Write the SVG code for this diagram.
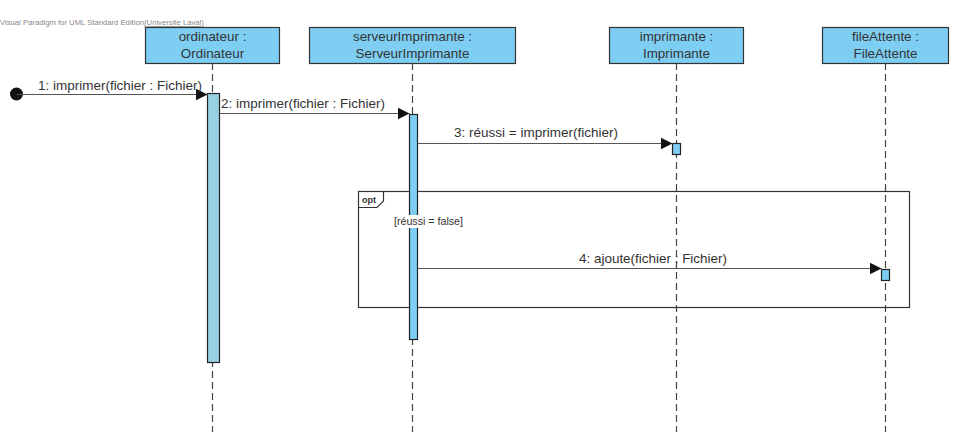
<svg xmlns="http://www.w3.org/2000/svg" width="953" height="432" viewBox="0 0 953 432">
<style>
text{font-family:"Liberation Sans",Arial,sans-serif;fill:#333}
.head{fill:#7ecef4;stroke:#333;stroke-width:1.2}
.ht{font-size:13.4px;text-anchor:middle}
.life{stroke:#444;stroke-width:1.2;stroke-dasharray:7,4;fill:none}
.act{fill:#7ecef4;stroke:#222;stroke-width:1.2}
.msg{stroke:#555;stroke-width:1.2;fill:none;marker-end:url(#arr)}
.mt{font-size:13.4px}
</style>
<defs>
<marker id="arr" markerWidth="14" markerHeight="12" refX="12" refY="6" orient="auto" markerUnits="userSpaceOnUse">
<path d="M0,0 L12,6 L0,12 z" fill="#111"/>
</marker>
</defs>
<rect width="953" height="432" fill="#fff"/>
<text x="0" y="25" font-size="7.7" style="fill:#888">Visual Paradigm for UML Standard Edition<tspan text-decoration="underline">(Universite Laval)</tspan></text>

<g id="ordinateur">
<line class="life" x1="212.5" y1="63" x2="212.5" y2="432"/>
<rect class="head" x="145.5" y="27.5" width="134" height="36"/>
<text class="ht" x="212.5" y="41">ordinateur :</text>
<text class="ht" x="212.5" y="58">Ordinateur</text>
<rect class="act" x="207.5" y="93.5" width="12" height="269" style="fill:#97d0e0"/>
</g>

<g id="serveurImprimante">
<line class="life" x1="412.5" y1="63" x2="412.5" y2="432"/>
<rect class="head" x="309.5" y="27.5" width="206" height="36"/>
<text class="ht" x="412.5" y="41">serveurImprimante :</text>
<text class="ht" x="412.5" y="58">ServeurImprimante</text>
</g>

<g id="imprimante">
<line class="life" x1="676.5" y1="63" x2="676.5" y2="432"/>
<rect class="head" x="609.5" y="27.5" width="134" height="36"/>
<text class="ht" x="676.5" y="41">imprimante :</text>
<text class="ht" x="676.5" y="58">Imprimante</text>
<rect class="act" x="672.5" y="143.5" width="8" height="11"/>
</g>

<g id="fileAttente">
<line class="life" x1="885.5" y1="63" x2="885.5" y2="432"/>
<rect class="head" x="822.5" y="27.5" width="126" height="36"/>
<text class="ht" x="885.5" y="41">fileAttente :</text>
<text class="ht" x="885.5" y="58">FileAttente</text>
</g>

<g id="opt">
<rect x="358.5" y="191.5" width="551" height="116" fill="none" stroke="#333" stroke-width="1.2"/>
<path d="M358.5,207.5 H377 L383.5,201 V191.5" fill="none" stroke="#333" stroke-width="1.2"/>
<text x="362" y="203" font-size="9" font-weight="bold">opt</text>
</g>

<g id="serverAct">
<rect class="act" x="409.5" y="114.5" width="8" height="225"/>
</g>
<g id="guard">
<rect x="393" y="215" width="71" height="13" fill="#fff"/>
<text x="394" y="225" font-size="10.5" textLength="69" lengthAdjust="spacingAndGlyphs">[réussi = false]</text>
</g>
<g id="fileAct">
<rect class="act" x="881.5" y="269.5" width="8" height="11"/>
</g>

<g id="connectors">
<circle cx="16.5" cy="94" r="6.5" fill="#111"/>
<line class="msg" x1="16.5" y1="94.5" x2="207.5" y2="94.5"/>
<text class="mt" x="38" y="90" textLength="164" lengthAdjust="spacingAndGlyphs">1: imprimer(fichier : Fichier)</text>
<line class="msg" x1="219.5" y1="113.5" x2="409.5" y2="113.5"/>
<text class="mt" x="221" y="108" textLength="164" lengthAdjust="spacingAndGlyphs">2: imprimer(fichier : Fichier)</text>
<line class="msg" x1="417.5" y1="143.5" x2="672.5" y2="143.5"/>
<text class="mt" x="454" y="137" textLength="164" lengthAdjust="spacingAndGlyphs">3: réussi = imprimer(fichier)</text>
<line class="msg" x1="417.5" y1="268.5" x2="881.5" y2="268.5"/>
<text class="mt" x="579" y="263" textLength="148" lengthAdjust="spacingAndGlyphs">4: ajoute(fichier : Fichier)</text>
</g>
</svg>
